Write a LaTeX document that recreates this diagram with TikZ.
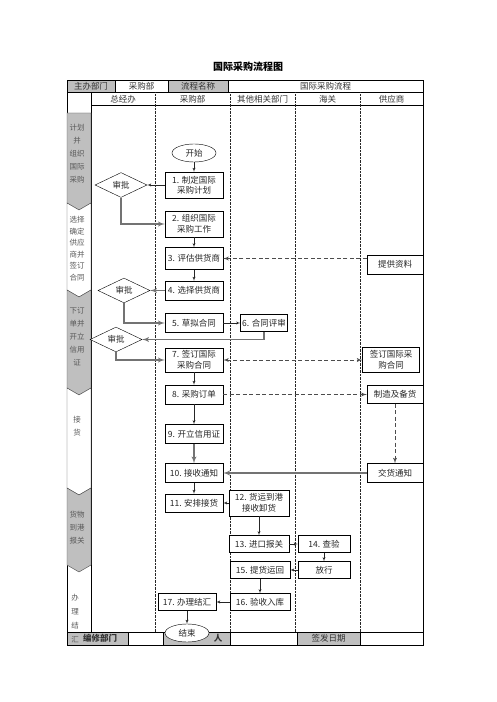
\documentclass[tikz,border=0pt]{standalone}
\usepackage{fontspec}
\setmainfont{Noto Sans CJK SC}
\usepackage{xcolor}
\usepackage{tikz}
\usetikzlibrary{shapes,arrows}
\newcommand{\boxfont}{\fontsize{8.5}{10.5}\selectfont}
\newcommand{\stagefont}{\fontsize{7.5}{13}\selectfont}
\tikzstyle{block} = [draw, fill=white, rectangle, minimum height=19pt, minimum
width=58pt, inner sep=1pt, align=center, text=black!85, font=\boxfont]
\tikzstyle{tallbox} = [minimum height=26pt]
\tikzstyle{lowbox} = [minimum height=17pt]
\tikzstyle{decision} = [draw, fill=white, diamond, minimum width=52pt, minimum
height=24pt, inner sep=0pt, text=black!85, font=\boxfont]
\tikzstyle{terminal} = [draw, fill=white, ellipse, minimum width=44pt, minimum
height=18pt, inner sep=0pt, text=black!85, font=\boxfont]
\tikzstyle{line} = [draw, -latex', black!85]
\tikzstyle{arrow1} = [draw, -latex', line width=1.3pt, black!55]
\tikzstyle{dasharrow} = [draw, -latex', line width=0.9pt, black!70, dash pattern=on 4pt off 2.5pt]
\tikzstyle{lane} = [draw, densely dotted, black!85]
\tikzstyle{stage} = [draw=black!70, fill=black!25]
\tikzstyle{stagetext} = [align=center, text=black!65, font=\stagefont]
\tikzstyle{headtext} = [font=\boxfont, text=black!80]
\tikzstyle{cellfill} = [fill=black!25]

\begin{document}
\begin{tikzpicture}[x=1pt, y=1pt]
\useasboundingbox (0,0) rectangle (496,702);

% Place table
\fill [cellfill] (67,609.5) rectangle (115,622);
\fill [cellfill] (168,609.5) rectangle (228,622);
\fill [cellfill] (67,57) rectangle (128,70);
\fill [cellfill] (163,57) rectangle (230,70);
\fill [cellfill] (297,57) rectangle (360,70);
\draw (67,57) rectangle (423,622);
\draw (67,609.5) -- (423,609.5);
\draw (91,597) -- (423,597);
\draw (91,609.5) -- (91,70);
\draw (67,70) -- (423,70);
\draw (115,609.5) -- (115,622);
\draw (168,609.5) -- (168,622);
\draw (228,609.5) -- (228,622);
\draw (128,57) -- (128,70);
\draw (163,57) -- (163,70);
\draw (230,57) -- (230,70);
\draw (297,57) -- (297,70);
\draw (360,57) -- (360,70);
\draw [lane] (155,609.5) -- (155,70);
\draw [lane] (230,609.5) -- (230,70);
\draw [lane] (295,609.5) -- (295,70);
\draw [lane] (360,609.5) -- (360,70);

% Place stages
\draw [stage] (67,589) -- (91,589) -- (91,499) -- (79,492) -- (67,499) -- cycle;
\draw [stage, fill=white] (67,499) -- (79,492) -- (91,499) -- (91,412) -- (79,405) -- (67,412) -- cycle;
\draw [stage] (67,412) -- (79,405) -- (91,412) -- (91,314) -- (79,307) -- (67,314) -- cycle;
\draw [stage, fill=white] (67,314) -- (79,307) -- (91,314) -- (91,214) -- (79,207) -- (67,214) -- cycle;
\draw [stage] (67,214) -- (79,207) -- (91,214) -- (91,137) -- (79,130) -- (67,137) -- cycle;

% Place texts
\node [headtext, font=\fontsize{10}{12}\selectfont\bfseries, text=black] (title) at (248,635) {国际采购流程图};
\node [headtext] (hostlabel) at (91,616) {主办部门};
\node [headtext] (hostdept) at (141.5,616) {采购部};
\node [headtext] (namelabel) at (198,616) {流程名称};
\node [headtext] (procname) at (325.5,616) {国际采购流程};
\node [headtext] (lanegm) at (123,603) {总经办};
\node [headtext] (lanebuy) at (192.5,603) {采购部};
\node [headtext] (laneother) at (262.5,603) {其他相关部门};
\node [headtext] (lanecustoms) at (327.5,603) {海关};
\node [headtext] (lanesupplier) at (391.5,603) {供应商};
\node [stagetext] (stage1) at (77,548) {计划\\并\\组织\\国际\\采购};
\node [stagetext, font=\fontsize{7.5}{11.5}\selectfont] (stage2) at (77,453.5) {选择\\确定\\供应\\商并\\签订\\合同};
\node [stagetext] (stage3) at (77,365.5) {下订\\单并\\开立\\信用\\证};
\node [stagetext] (stage4) at (77,275.5) {接\\货};
\node [stagetext] (stage5) at (77,174) {货物\\到港\\报关};
\node [headtext, font=\boxfont\bfseries] (editdept) at (100,63.5) {编修部门};
\node [headtext, font=\boxfont\bfseries] (editor) at (218,63.5) {人};
\node [headtext] (issuedate) at (328.5,63.5) {签发日期};
\node [stagetext, font=\fontsize{7.5}{14}\selectfont] (stage6) at (75,83) {办\\理\\结\\汇};

% Place nodes
\node [terminal] (start) at (194,549) {开始};
\node [block, tallbox, below of=start, node distance=32pt] (plan) {1. 制定国际\\采购计划};
\node [block, tallbox, below of=plan, node distance=39pt] (organize) {2. 组织国际\\采购工作};
\node [block, minimum height=22pt, below of=organize, node distance=34.5pt] (evaluate) {3. 评估供货商};
\node [block, below of=evaluate, node distance=32pt] (select) {4. 选择供货商};
\node [block, below of=select, node distance=32.5pt] (draft) {5. 草拟合同};
\node [block, lowbox, minimum width=47pt, right of=draft, node distance=70pt] (review) {6. 合同评审};
\node [block, minimum height=24pt, below of=draft, node distance=37pt] (sign) {7. 签订国际\\采购合同};
\node [block, below of=sign, node distance=34.5pt] (order) {8. 采购订单};
\node [block, below of=order, node distance=39.5pt] (credit) {9. 开立信用证};
\node [block, below of=credit, node distance=39pt] (notice) {10. 接收通知};
\node [block, minimum height=18pt, below of=notice, node distance=30pt] (receive) {11. 安排接货};
\node [block, tallbox, minimum width=60pt, right of=receive, node distance=65pt] (arrive) {12. 货运到港\\接收卸货};
\node [block, lowbox, minimum width=60pt, below of=arrive, node distance=41pt] (declare) {13. 进口报关};
\node [block, lowbox, minimum width=52pt, right of=declare, node distance=65pt] (inspect) {14. 查验};
\node [block, lowbox, minimum width=52pt, below of=inspect, node distance=26pt] (release) {放行};
\node [block, lowbox, minimum width=60pt, left of=release, node distance=64pt] (pickup) {15. 提货运回};
\node [block, lowbox, minimum width=60pt, below of=pickup, node distance=32pt] (accept) {16. 验收入库};
\node [block, lowbox, left of=accept, node distance=73pt] (settle) {17. 办理结汇};
\node [terminal, below of=settle, node distance=31pt] (finish) {结束};
\node [decision, left of=plan, node distance=73pt] (approve1) {审批};
\node [decision, left of=select, node distance=70pt] (approve2) {审批};
\node [decision, below of=approve2, node distance=49pt, xshift=-8pt] (approve3) {审批};
\node [block, minimum width=56pt, right of=evaluate, node distance=201pt, yshift=-6pt] (supply) {提供资料};
\node [block, minimum width=57pt, minimum height=25pt, right of=sign, node distance=197pt] (contract) {签订国际采\\购合同};
\node [block, minimum width=56pt, minimum height=18pt, right of=order, node distance=201pt] (produce) {制造及备货};
\node [block, minimum width=56pt, right of=notice, node distance=201pt] (deliver) {交货通知};

% Place lines
\draw [line] (start) -- (plan);
\draw [line] (plan) -- (approve1);
\draw [arrow1] (approve1.south) |- (organize);
\draw [line] (organize) -- (evaluate);
\draw [dasharrow] (supply.west |- evaluate) -- (evaluate);
\draw [line] (evaluate) -- (select);
\draw [arrow1] (select) -- (approve2);
\draw [arrow1] (approve2.south) |- (draft);
\draw [line] (draft) -- (review);
\draw [arrow1] (review.south) |- (approve3);
\draw [arrow1] (approve3.south) |- (sign);
\draw [dasharrow, latex'-latex'] (sign) -- (contract);
\draw [line] (sign) -- (order);
\draw [dasharrow] (order) -- (produce);
\draw [line] (order) -- (credit);
\draw [dasharrow] (produce) -- (deliver);
\draw [arrow1] (credit) -- (notice);
\draw [arrow1] (deliver) -- (notice);
\draw [line] (notice) -- (receive);
\draw [line] (arrive) -- (receive);
\draw [line] (arrive) -- (declare);
\draw [line] (declare) -- (inspect);
\draw [line] (inspect) -- (release);
\draw [line] (release) -- (pickup);
\draw [line] (pickup) -- (accept);
\draw [line] (accept) -- (settle);
\draw [line] (settle) -- (finish);

\end{tikzpicture}
\end{document}
